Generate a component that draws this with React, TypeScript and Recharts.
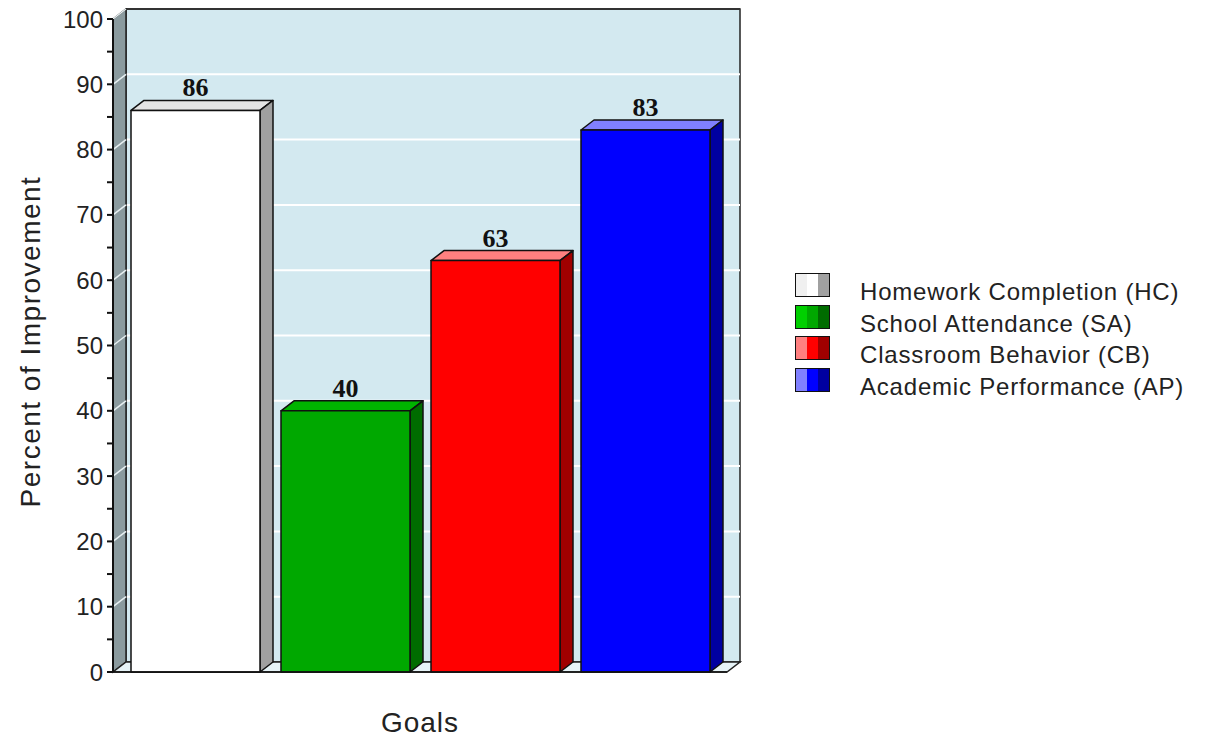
import React from "react";
import {
  BarChart,
  Bar,
  XAxis,
  YAxis,
  ReferenceArea,
  LabelList,
  Legend,
} from "recharts";

const goals = [
  "Homework Completion (HC)",
  "School Attendance (SA)",
  "Classroom Behavior (CB)",
  "Academic Performance (AP)",
];
const improvement = [86, 40, 63, 83];
const yTicks = [0, 5, 10, 15, 20, 25, 30, 35, 40, 45, 50, 55, 60, 65, 70, 75, 80, 85, 90, 95, 100];
const gridValues = [10, 20, 30, 40, 50, 60, 70, 80, 90, 100];

const data = goals.map((goal, i) => ({ goal, value: improvement[i] }));

// shading for each bar: front face, right side, top, and the light legend stripe
const palette = [
  { front: "#ffffff", side: "#a0a0a0", top: "#e4e4e4", light: "#f0f0f0" },
  { front: "#00a800", side: "#006c00", top: "#00b400", light: "#00d000" },
  { front: "#ff0000", side: "#a00000", top: "#ff8080", light: "#ff8080" },
  { front: "#0000ff", side: "#0000a0", top: "#8080ff", light: "#8080ff" },
];

const DX = 13;
const DY = 10;
const X_PAD = 7;
const FONT = "'Liberation Sans', Arial, sans-serif";

// back wall, left wall and floor, sized from the reference area rect
const Walls = (props: any) => {
  const { x, y, width, height } = props;
  const left = x - X_PAD;
  const right = x + width + X_PAD;
  const bottom = y + height;
  const toY = (v: number) => bottom - (height * v) / 100;
  return (
    <g>
      <rect
        x={left + DX}
        y={y - DY}
        width={right - left}
        height={height}
        fill="#d3e9f0"
        stroke="#222"
        strokeWidth={1.5}
      />
      {gridValues.map((v) => (
        <line
          key={"g" + v}
          x1={left + DX}
          x2={right + DX}
          y1={toY(v) - DY}
          y2={toY(v) - DY}
          stroke="#ffffff"
          strokeWidth={2}
        />
      ))}
      <line
        x1={left + DX}
        x2={right + DX}
        y1={y - DY}
        y2={y - DY}
        stroke="#333"
        strokeWidth={2}
      />
      <polygon
        points={`${left},${y} ${left + DX},${y - DY} ${left + DX},${bottom - DY} ${left},${bottom}`}
        fill="#8a9a9e"
        stroke="#222"
        strokeWidth={1.5}
      />
      {gridValues.map((v) => (
        <line
          key={"s" + v}
          x1={left}
          y1={toY(v)}
          x2={left + DX}
          y2={toY(v) - DY}
          stroke="#e8f0f2"
          strokeWidth={1.5}
        />
      ))}
      <polygon
        points={`${left},${bottom} ${left + DX},${bottom - DY} ${right + DX},${bottom - DY} ${right},${bottom}`}
        fill="#e6f3f7"
        stroke="#222"
        strokeWidth={1.5}
      />
    </g>
  );
};

const Bar3D = (props: any) => {
  const { x, y, width, height, index } = props;
  const c = palette[index % palette.length];
  const r = x + width;
  const b = y + height;
  return (
    <g stroke="#111" strokeWidth={1.5} strokeLinejoin="round">
      <polygon
        points={`${x},${y} ${x + DX},${y - DY} ${r + DX},${y - DY} ${r},${y}`}
        fill={c.top}
      />
      <polygon
        points={`${r},${y} ${r + DX},${y - DY} ${r + DX},${b - DY} ${r},${b}`}
        fill={c.side}
      />
      <rect x={x} y={y} width={width} height={height} fill={c.front} />
    </g>
  );
};

const YTick = ({ x, y, payload }: any) =>
  payload.value % 10 === 0 ? (
    <text
      x={x}
      y={y}
      textAnchor="end"
      dominantBaseline="central"
      fontFamily={FONT}
      fontSize={24}
      fill="#222"
    >
      {payload.value}
    </text>
  ) : (
    <g />
  );

const ValueLabel = (props: any) => {
  const { x, y, width, value } = props;
  return (
    <text
      x={x + width / 2}
      y={y - 14}
      textAnchor="middle"
      fontFamily="'Liberation Serif', 'Times New Roman', serif"
      fontWeight="bold"
      fontSize={26}
      fill="#111"
    >
      {value}
    </text>
  );
};

const GoalsLegend = () => (
  <div style={{ fontFamily: FONT, fontSize: 24, color: "#222", letterSpacing: 0.8 }}>
    {goals.map((g, i) => (
      <div key={g} style={{ display: "flex", alignItems: "flex-start", height: 31.7 }}>
        <div
          style={{
            display: "flex",
            width: 35,
            height: 24,
            border: "1px solid #111",
            boxSizing: "border-box",
          }}
        >
          <div style={{ flex: 1, background: palette[i].light }} />
          <div style={{ flex: 1, background: palette[i].front }} />
          <div style={{ flex: 1, background: palette[i].side }} />
        </div>
        <span style={{ marginLeft: 30, lineHeight: "24px", marginTop: 7, whiteSpace: "nowrap" }}>
          {g}
        </span>
      </div>
    ))}
  </div>
);

export default function App() {
  return (
    <div style={{ margin: -8 }}>
      <BarChart
        width={1206}
        height={743}
        data={data}
        margin={{ top: 19, right: 479, left: 53, bottom: 0 }}
      >
        <ReferenceArea y1={0} y2={100} shape={<Walls />} ifOverflow="visible" />
        <XAxis
          dataKey="goal"
          tick={false}
          tickLine={false}
          height={71}
          padding={{ left: X_PAD, right: X_PAD }}
          axisLine={{ stroke: "#111", strokeWidth: 1.5 }}
          label={{
            content: (p: any) => (
              <text
                x={p.viewBox.x + p.viewBox.width / 2}
                y={p.viewBox.y + 50}
                textAnchor="middle"
                dominantBaseline="central"
                fontFamily={FONT}
                fontSize={28}
                letterSpacing={1}
                fill="#222"
              >
                Goals
              </text>
            ),
          }}
        />
        <YAxis
          type="number"
          domain={[0, 100]}
          ticks={yTicks}
          interval={0}
          width={60}
          tickSize={6}
          tickMargin={4}
          tick={<YTick />}
          axisLine={{ stroke: "#111", strokeWidth: 2 }}
          tickLine={{ stroke: "#111", strokeWidth: 2 }}
          label={{
            content: (p: any) => {
              const cx = p.viewBox.x - 23;
              const cy = p.viewBox.y + p.viewBox.height / 2 - 4;
              return (
                <text
                  x={cx}
                  y={cy}
                  transform={`rotate(-90 ${cx} ${cy})`}
                  textAnchor="middle"
                  dominantBaseline="central"
                  fontFamily={FONT}
                  fontSize={28}
                  letterSpacing={1.5}
                  fill="#222"
                >
                  Percent of Improvement
                </text>
              );
            },
          }}
        />
        <Bar
          dataKey="value"
          barSize={129}
          shape={<Bar3D />}
          isAnimationActive={false}
        >
          <LabelList dataKey="value" content={<ValueLabel />} />
        </Bar>
        <Legend
          layout="vertical"
          align="center"
          verticalAlign="middle"
          wrapperStyle={{ left: 795, top: 273, width: 400 }}
          content={() => <GoalsLegend />}
        />
      </BarChart>
    </div>
  );
}
